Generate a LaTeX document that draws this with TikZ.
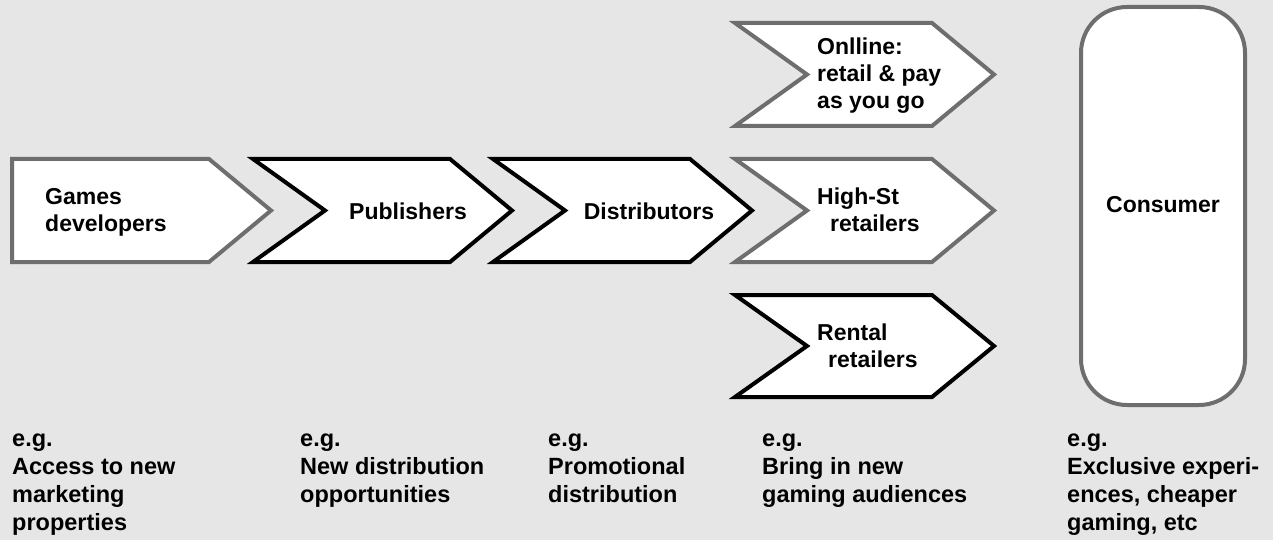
\documentclass[tikz,border=0pt]{standalone}
\usepackage{fontspec}
\setmainfont{Liberation Sans}
\definecolor{bgcol}{HTML}{E6E6E6}
\definecolor{edgegray}{HTML}{6E6E6E}
% chevron: #1 style, #2 left x, #3 top y, #4 bottom y, #5 notch depth
\newcommand\chevron[5]{%
  \filldraw[#1] (#2,#3) -- ({#2+197},#3) -- ({#2+259},{(#3+#4)/2})
    -- ({#2+197},#4) -- (#2,#4) -- ({#2+#5},{(#3+#4)/2}) -- cycle;}
\begin{document}
\begin{tikzpicture}[x=1pt,y=-1pt,
  txt/.style={font=\fontsize{23}{27}\selectfont\bfseries,align=left,inner sep=0pt},
  lbl/.style={txt,anchor=base west},
  caption/.style={txt,anchor=base west,font=\fontsize{23.5}{28}\selectfont\bfseries},
  grayedge/.style={draw=edgegray,fill=white,line width=4pt},
  blackedge/.style={draw=black,fill=white,line width=4pt}]
\fill[bgcol] (0,0) rectangle (1273,540);
\useasboundingbox (0,0) rectangle (1273,540);

% value chain
\chevron{grayedge}{12}{159}{262}{0}
\chevron{blackedge}{253}{159}{262}{72}
\chevron{blackedge}{493}{159}{262}{72}
% retail channels
\chevron{grayedge}{735}{23}{126}{72}
\chevron{grayedge}{735}{159}{262}{72}
\chevron{blackedge}{735}{295}{397}{72}

\node[grayedge,rounded corners=46pt,minimum width=164pt,minimum height=398pt,inner sep=0pt]
  (consumerbox) at (1163,206) {};

% labels (anchored at the baseline of their last line)
\node[lbl] (dev) at (45,231) {Games\\developers};
\node[txt,anchor=base] (pub) at (408,219) {Publishers};
\node[txt,anchor=base] (dist) at (649,219) {Distributors};
\node[lbl] (online) at (817,109) {Onlline:\\retail \& pay\\as you go};
\node[lbl] (highst) at (817,231) {High-St\\\hspace*{13pt}retailers};
\node[lbl] (rental) at (817,367) {Rental\\\hspace*{11pt}retailers};
\node[txt,anchor=base] (consumer) at (1163,212) {Consumer};

% examples under each stage
\node[caption] (eg1) at (12,530) {e.g.\\Access to new\\marketing\\properties};
\node[caption] (eg2) at (300,502) {e.g.\\New distribution\\opportunities};
\node[caption] (eg3) at (548,502) {e.g.\\Promotional\\distribution};
\node[caption] (eg4) at (762,502) {e.g.\\Bring in new\\gaming audiences};
\node[caption] (eg5) at (1067,530) {e.g.\\Exclusive experi-\\ences, cheaper\\gaming, etc};
\end{tikzpicture}
\end{document}
